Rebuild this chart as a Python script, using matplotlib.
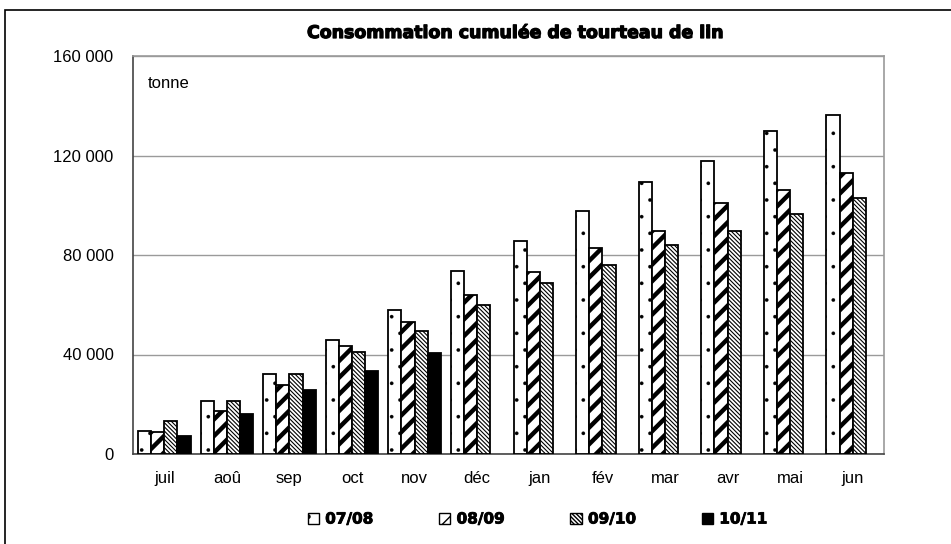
import matplotlib.pyplot as plt
import matplotlib.patches as mpatches
import matplotlib.patheffects as pe
import numpy as np

plt.rcParams['font.family'] = ['Liberation Sans', 'DejaVu Sans']

# Consommation cumulée (tonnes) par campagne
mois = ['juil', 'aoû', 'sep', 'oct', 'nov', 'déc', 'jan', 'fév', 'mar', 'avr', 'mai', 'jun']
c0708 = [9300, 21300, 32000, 46000, 58000, 73600, 85600, 97600, 109200, 117900, 129700, 136400]
c0809 = [9000, 17200, 27900, 43600, 53200, 64000, 73200, 82700, 89700, 100800, 106300, 113100]
c0910 = [13300, 21300, 32000, 41200, 49600, 60000, 68800, 76000, 83900, 89700, 96300, 102900]
c1011 = [7300, 15900, 25700, 33200, 40800]
campagnes = ['07/08', '08/09', '09/10', '10/11']

fig = plt.figure(figsize=(9.51, 5.44), dpi=100)
ax = fig.add_axes([133 / 951, 1 - 454 / 544, (884 - 133) / 951, (454 - 56) / 544])

x = np.arange(len(mois))
w = 0.21
start = -0.42 + w / 2

styles = [
    dict(facecolor='white', hatch='.', hlw=0.2),
    dict(facecolor='white', hatch='//', hlw=3.2),
    dict(facecolor='white', hatch='\\' * 8, hlw=0.8),
    dict(facecolor='black', hatch=None, hlw=1.0),
]
series = [c0708, c0809, c0910, c1011]

handles = []
for i, (vals, st, lab) in enumerate(zip(series, styles, campagnes)):
    with plt.rc_context({'hatch.linewidth': st['hlw']}):
        ax.bar(x[:len(vals)] + start + i * w, vals, width=w,
               facecolor=st['facecolor'], edgecolor='black',
               linewidth=1.3, hatch=st['hatch'], zorder=3)
        h = mpatches.Patch(facecolor=st['facecolor'], edgecolor='black',
                           linewidth=1.0, hatch=st['hatch'], label=lab)
    handles.append(h)

ax.set_xlim(-0.5, len(mois) - 0.5)
ax.set_ylim(0, 160000)
ax.set_yticks(np.arange(0, 160001, 40000))
ax.set_yticklabels(['0', '40 000', '80 000', '120 000', '160 000'])
ax.set_xticks(x)
ax.set_xticklabels(mois)
ax.tick_params(axis='both', length=0, labelsize=12, pad=12)
ax.tick_params(axis='y', pad=14)
ax.yaxis.grid(True, color='#9a9a9a', linewidth=1.0, zorder=0)
ax.set_axisbelow(True)

for side in ['top', 'right']:
    ax.spines[side].set_color('#9a9a9a')
for side in ['left', 'bottom']:
    ax.spines[side].set_color('#444444')
for s in ax.spines.values():
    s.set_linewidth(1.2)

ax.text(0.02, 0.93, 'tonne', transform=ax.transAxes, fontsize=12,
        ha='left', va='center')

heavy = [pe.withStroke(linewidth=0.9, foreground='black')]

fig.text(0.542, 1 - 33 / 544, 'Consommation cumulée de tourteau de lin',
         ha='center', va='center', fontsize=12.5, fontweight='bold',
         family='DejaVu Sans', path_effects=heavy)

leg = fig.legend(handles=handles, loc='center', bbox_to_anchor=(0.565, 1 - 519 / 544),
                 ncol=4, frameon=False, handlelength=0.75, handleheight=0.75,
                 handletextpad=0.4, columnspacing=4.3,
                 prop={'weight': 'bold', 'size': 11, 'family': 'DejaVu Sans'})
for t in leg.get_texts():
    t.set_path_effects([pe.withStroke(linewidth=0.6, foreground='black')])

# Cadre extérieur
fig.patches.append(mpatches.Rectangle((5 / 951, -0.1), 1.2, 1 - 10 / 544 + 0.1,
                                      transform=fig.transFigure, fill=False,
                                      edgecolor='black', linewidth=1.2))

fig.savefig('out.png', dpi=100)
